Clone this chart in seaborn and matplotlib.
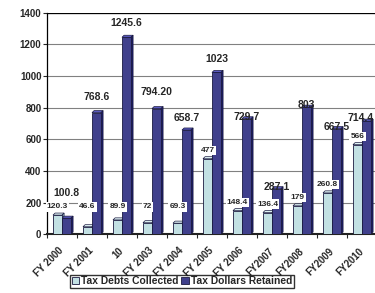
import matplotlib
matplotlib.use("Agg")
import matplotlib.pyplot as plt
import seaborn as sns
import pandas as pd
import numpy as np
from matplotlib.patches import Polygon

# Chart data
years = ["FY 2000", "FY 2001", "10", "FY 2003", "FY 2004", "FY 2005",
         "FY 2006", "FY2007", "FY2008", "FY2009", "FY2010"]
collected = [120.3, 46.6, 89.9, 72, 69.3, 477, 148.4, 136.4, 179, 260.8, 566]
retained = [100.8, 768.6, 1245.6, 794.2, 658.7, 1023, 729.7, 287.1, 803, 667.5, 714.4]
collected_labels = ["120.3", "46.6", "89.9", "72", "69.3", "477",
                    "148.4", "136.4", "179", "260.8", "566"]
retained_labels = ["100.8", "768.6", "1245.6", "794.20", "658.7", "1023",
                   "729.7", "287.1", "803", "667.5", "714.4"]
series_names = ["Tax Debts Collected", "Tax Dollars Retained"]

# label lift above the bar top (points), as placed in the original
retained_pad = [18, 11, 10, 12, 9, 10, 1.5, 1.5, 1.5, 1, 2]

df = pd.DataFrame({
    "year": years * 2,
    "value": collected + retained,
    "series": [series_names[0]] * len(years) + [series_names[1]] * len(years),
})

sns.set_style("white")
plt.rcParams["font.family"] = ["Liberation Sans", "DejaVu Sans"]
plt.rcParams["font.weight"] = "bold"

light, navy = "#BDE4E8", "#333399"
fig = plt.figure(figsize=(3.75, 2.93), dpi=100)
ax = fig.add_axes([0.1253, 0.201, 0.88, 0.755])

sns.barplot(data=df, x="year", y="value", hue="series", palette=[light, navy],
            width=0.6, edgecolor="#1a1a40", linewidth=0.6, ax=ax, zorder=3)
handles, labels = ax.get_legend_handles_labels()
ax.get_legend().remove()

# fake 3D depth on every bar
dx, dy = 0.07, 13
shades = [("#dff2f4", "#8fb7bc"), ("#5a5ac0", "#1c1c66")]
for cont, (top_c, side_c) in zip(ax.containers, shades):
    for p in cont.patches:
        x0, w, h = p.get_x(), p.get_width(), p.get_height()
        x1 = x0 + w
        ax.add_patch(Polygon([(x0, h), (x0 + dx, h + dy), (x1 + dx, h + dy), (x1, h)],
                             closed=True, fc=top_c, ec="#1a1a40", lw=0.5, zorder=2.9))
        ax.add_patch(Polygon([(x1, 0), (x1 + dx, dy), (x1 + dx, h + dy), (x1, h)],
                             closed=True, fc=side_c, ec="#1a1a40", lw=0.5, zorder=2.9))

# value labels
for p, txt in zip(ax.containers[0].patches, collected_labels):
    xc = p.get_x() + p.get_width() / 2
    ax.annotate(txt, (xc, max(p.get_height(), 120)), xytext=(0, 6),
                textcoords="offset points", ha="center", va="center",
                fontsize=6, fontweight="bold", zorder=6,
                bbox=dict(boxstyle="square,pad=0.15", fc="white", ec="none"))
n = len(retained_labels)
for i, (p, txt, pad) in enumerate(zip(ax.containers[1].patches, retained_labels, retained_pad)):
    xc = p.get_x() + p.get_width() / 2
    shift = -4 if i == n - 1 else 0  # keep the last one inside the figure
    ax.annotate(txt, (xc, p.get_height()), xytext=(shift, pad),
                textcoords="offset points", ha="center", va="center",
                fontsize=7.5, fontweight="bold", zorder=6)

ax.set_ylim(0, 1400)
ax.set_xlim(-0.5, len(years) - 0.5)
ax.set_yticks(np.arange(0, 1401, 200))
ax.yaxis.grid(True, color="#808080", lw=0.8, zorder=0)
ax.axhline(1400, color="black", lw=0.9, zorder=1)
ax.set_xlabel("")
ax.set_ylabel("")

for s in ["top", "right"]:
    ax.spines[s].set_visible(False)
ax.spines["left"].set_color("black")
ax.spines["left"].set_linewidth(0.9)
ax.spines["bottom"].set_color("#222222")
ax.spines["bottom"].set_linewidth(1.5)

ax.tick_params(axis="y", left=True, length=3, width=0.8, labelsize=7, pad=1)
ax.set_xticks(range(len(years)))
ax.set_xticklabels(years, rotation=45, ha="right", va="center",
                   rotation_mode="anchor", fontsize=7, fontweight="bold")
ax.set_xticks(np.arange(-0.5, len(years), 1), minor=True)
ax.tick_params(axis="x", which="major", length=0, pad=11)
ax.tick_params(axis="x", which="minor", bottom=True, length=3, width=0.8)
for t in ax.get_yticklabels():
    t.set_fontweight("bold")

fig.legend(handles, labels, loc="upper center", bbox_to_anchor=(0.485, 0.062),
           ncol=2, fontsize=7.4, frameon=True, fancybox=False, edgecolor="black",
           handlelength=0.7, handleheight=0.7, handletextpad=0.2,
           columnspacing=0.3, borderpad=0.15, borderaxespad=0)

fig.savefig("out.png", dpi=100)
